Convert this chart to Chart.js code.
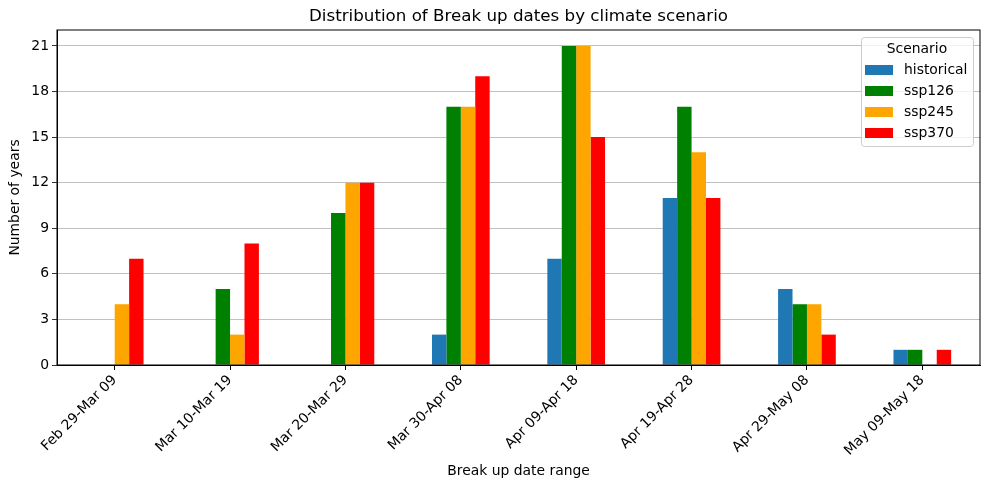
<!DOCTYPE html>
<html>
<head>
<meta charset="utf-8">
<script src="https://cdn.jsdelivr.net/npm/chart.js@4/dist/chart.umd.min.js"></script>
<style>
  html, body { margin: 0; padding: 0; background: #fff; }
  #wrap { width: 989px; height: 490px; }
</style>
</head>
<body>
<div id="wrap"><canvas id="chart" width="989" height="490"></canvas></div>
<script>
// data
const categories = ['Feb 29-Mar 09', 'Mar 10-Mar 19', 'Mar 20-Mar 29', 'Mar 30-Apr 08',
                    'Apr 09-Apr 18', 'Apr 19-Apr 28', 'Apr 29-May 08', 'May 09-May 18'];
const historical = [0, 0, 0, 2, 7, 11, 5, 1];
const ssp126 = [0, 5, 10, 17, 21, 17, 4, 1];
const ssp245 = [4, 2, 12, 17, 21, 14, 4, 0];
const ssp370 = [7, 8, 12, 19, 15, 11, 2, 1];
const seriesNames = ['historical', 'ssp126', 'ssp245', 'ssp370'];
const seriesColors = ['#1f77b4', '#008000', '#ffa500', '#ff0000'];
const yTicks = [0, 3, 6, 9, 12, 15, 18, 21];

const FONT = 'DejaVu Sans';
Chart.defaults.font.family = FONT;
Chart.defaults.color = '#000';

// title, frame and legend box drawn like matplotlib
const extras = {
  id: 'extras',
  afterDraw(chart) {
    const { ctx, chartArea: a } = chart;
    ctx.save();
    ctx.strokeStyle = '#000';
    ctx.lineWidth = 1;
    ctx.strokeRect(a.left, a.top, a.right - a.left, a.bottom - a.top);

    ctx.fillStyle = '#000';
    ctx.font = '16.7px ' + FONT;
    ctx.textAlign = 'center';
    ctx.textBaseline = 'middle';
    ctx.fillText('Distribution of Break up dates by climate scenario', (a.left + a.right) / 2, 17);

    // legend
    const lx = 861, ly = 37, lw = 112, lh = 109;
    ctx.fillStyle = 'rgba(255,255,255,0.8)';
    ctx.strokeStyle = '#cccccc';
    ctx.beginPath();
    ctx.roundRect(lx + 0.5, ly + 0.5, lw, lh, 3);
    ctx.fill();
    ctx.stroke();
    ctx.fillStyle = '#000';
    ctx.font = '13.9px ' + FONT;
    ctx.fillText('Scenario', lx + lw / 2, 49);
    ctx.textAlign = 'left';
    seriesNames.forEach((name, i) => {
      const cy = 70 + i * 21;
      ctx.fillStyle = seriesColors[i];
      ctx.fillRect(865, cy - 5, 28, 10);
      ctx.fillStyle = '#000';
      ctx.fillText(name, 904, cy);
    });
    ctx.restore();
  }
};

new Chart(document.getElementById('chart'), {
  type: 'bar',
  data: {
    labels: categories,
    datasets: [historical, ssp126, ssp245, ssp370].map((d, i) => ({
      label: seriesNames[i],
      data: d,
      backgroundColor: seriesColors[i],
      borderWidth: 0,
      categoryPercentage: 0.5,
      barPercentage: 1.0
    }))
  },
  options: {
    responsive: false,
    animation: false,
    layout: { padding: { top: 30, right: 9, left: 0, bottom: 0 } },
    plugins: {
      legend: { display: false },
      title: { display: false },
      tooltip: { enabled: false }
    },
    scales: {
      x: {
        offset: true,
        grid: { display: true, drawOnChartArea: false, offset: false, tickColor: '#000', tickLength: 5 },
        border: { color: '#000' },
        ticks: { maxRotation: 45, minRotation: 45, font: { size: 13.9 }, padding: 2 },
        title: { display: true, text: 'Break up date range', font: { size: 13.9 }, padding: { top: 0, bottom: 10 } },
        afterFit(scale) { scale.height = 125; }
      },
      y: {
        min: 0,
        max: 22.05,
        afterBuildTicks(scale) { scale.ticks = yTicks.map(v => ({ value: v })); },
        grid: { color: '#b0b0b0', lineWidth: 0.8, tickColor: '#000', tickLength: 5 },
        border: { color: '#000' },
        ticks: { font: { size: 13.9 }, padding: 3 },
        title: { display: true, text: 'Number of years', font: { size: 13.9 }, padding: { top: 7, bottom: 4 } },
        afterFit(scale) { scale.width = 57; }
      }
    }
  },
  plugins: [extras]
});
</script>
</body>
</html>
